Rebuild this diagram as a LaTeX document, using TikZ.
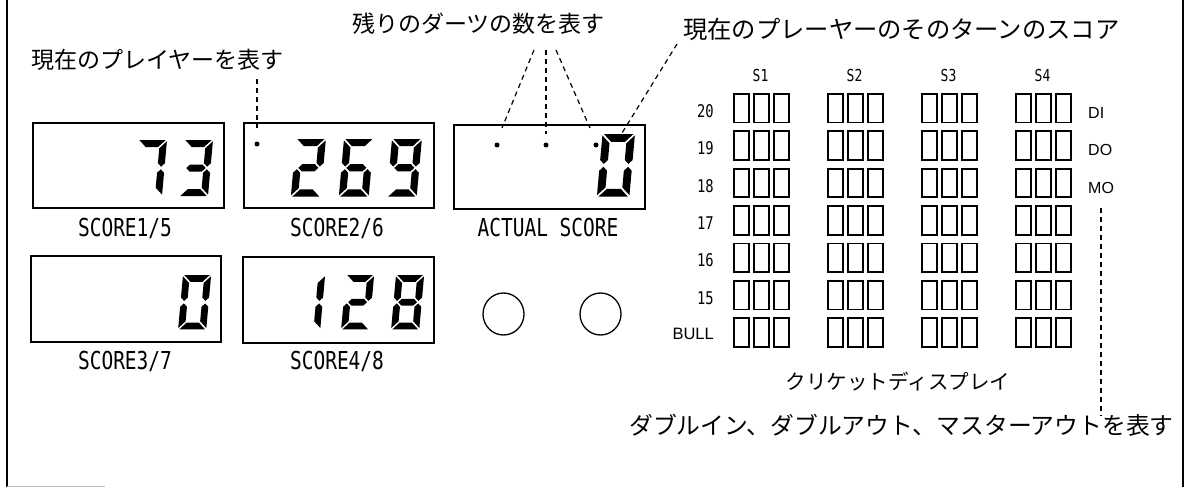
\documentclass[tikz,border=0pt]{standalone}
\usepackage{fontspec}
\usepackage{graphicx}
\usetikzlibrary{shapes.geometric}
\setmainfont{Liberation Sans}
\newfontfamily\jpfont{Noto Sans CJK JP}
\newfontfamily\monofont{DejaVu Sans Mono}
% seven segment geometry (local units, y downwards)
\def\sgW{29}\def\sgH{56}\def\sgT{7}\def\sgP{1.3}\def\sgM{28}
\def\segA{\fill (\sgP,0) -- (\sgW-\sgP,0) -- (\sgW-\sgP-\sgT,\sgT) -- (\sgP+\sgT,\sgT) -- cycle;}
\def\segD{\fill (\sgP,\sgH) -- (\sgW-\sgP,\sgH) -- (\sgW-\sgP-\sgT,\sgH-\sgT) -- (\sgP+\sgT,\sgH-\sgT) -- cycle;}
\def\segG{\fill (\sgP+\sgT/2,\sgM) -- (\sgP+\sgT,\sgM-\sgT/2) -- (\sgW-\sgP-\sgT,\sgM-\sgT/2) -- (\sgW-\sgP-\sgT/2,\sgM) -- (\sgW-\sgP-\sgT,\sgM+\sgT/2) -- (\sgP+\sgT,\sgM+\sgT/2) -- cycle;}
\def\segF{\fill (0,\sgP) -- (\sgT,\sgP+\sgT) -- (\sgT,\sgM-\sgT/2-\sgP) -- (\sgT/2,\sgM-\sgP) -- (0,\sgM-\sgT/2-\sgP) -- cycle;}
\def\segB{\fill (\sgW,\sgP) -- (\sgW-\sgT,\sgP+\sgT) -- (\sgW-\sgT,\sgM-\sgT/2-\sgP) -- (\sgW-\sgT/2,\sgM-\sgP) -- (\sgW,\sgM-\sgT/2-\sgP) -- cycle;}
\def\segE{\fill (0,\sgH-\sgP) -- (\sgT,\sgH-\sgP-\sgT) -- (\sgT,\sgM+\sgT/2+\sgP) -- (\sgT/2,\sgM+\sgP) -- (0,\sgM+\sgT/2+\sgP) -- cycle;}
\def\segC{\fill (\sgW,\sgH-\sgP) -- (\sgW-\sgT,\sgH-\sgP-\sgT) -- (\sgW-\sgT,\sgM+\sgT/2+\sgP) -- (\sgW-\sgT/2,\sgM+\sgP) -- (\sgW,\sgM+\sgT/2+\sgP) -- cycle;}
\newcommand\sdig[4]{%
  \begin{scope}[shift={(#1,#2)},scale=#3,xslant=0.09]
    \foreach \s in {#4}{\csname seg\s\endcsname}
  \end{scope}}
\newcommand\lbl[2]{\scalebox{0.79}[1]{\monofont\fontsize{#1}{#1}\selectfont #2}}
\begin{document}
\begin{tikzpicture}[x=1pt,y=-1pt,
  disp/.style={draw, line width=1.8pt, inner sep=0, anchor=north west},
  cell/.style={draw, line width=1.8pt, minimum width=15pt, minimum height=28.5pt, inner sep=0, anchor=north west},
  leader/.style={dash pattern=on 5pt off 4pt, line width=1.2pt},
  dot/.style={circle, fill, inner sep=0, minimum size=5pt},
  jp/.style={font=\jpfont\fontsize{23}{23}\selectfont, inner sep=0},
  captxt/.style={inner sep=0},
  knob/.style={ellipse, draw, line width=1.3pt, minimum width=41pt, minimum height=42pt, inner sep=0},
  side/.style={font=\fontsize{16}{16}\selectfont, inner sep=0, anchor=west}]
\useasboundingbox (0,0) rectangle (1185,487);
% frame
\draw[line width=2pt] (7,0) -- (7,487);
\draw[line width=2pt] (1183,0) -- (1183,487);
\draw[black!25, line width=1pt] (7,486) -- (105,486);

% display boxes
\node[disp, minimum width=191pt, minimum height=85pt] (s1) at (32,122) {};
\node[disp, minimum width=190pt, minimum height=85pt] (s2) at (243,122) {};
\node[disp, minimum width=191pt, minimum height=84pt] (act) at (453,124) {};
\node[disp, minimum width=190pt, minimum height=86pt] (s3) at (30,255) {};
\node[disp, minimum width=191pt, minimum height=86pt] (s4) at (242,256) {};

% captions
\node[captxt] (c1) at (125,228) {\lbl{24.7}{SCORE1/5}};
\node[captxt] (c2) at (337,228) {\lbl{24.7}{SCORE2/6}};
\node[captxt] (c3) at (548,228) {\lbl{24.7}{ACTUAL SCORE}};
\node[captxt] (c4) at (125,361) {\lbl{24.7}{SCORE3/7}};
\node[captxt] (c5) at (337,361) {\lbl{24.7}{SCORE4/8}};

% digits
\sdig{138}{140}{1}{A,B,C}
\sdig{184}{140}{1}{A,B,G,C,D}
\sdig{296}{139}{1.03}{A,B,G,E,D}
\sdig{344}{139}{1.03}{A,F,G,E,D,C}
\sdig{392}{139}{1.03}{A,B,F,G,C,D}
\sdig{602.5}{134}{1.12}{A,B,C,D,E,F}
\sdig{183}{275}{0.97}{A,B,C,D,E,F}
\sdig{297}{275}{0.97}{B,C}
\sdig{346}{275}{0.97}{A,B,G,E,D}
\sdig{396}{275}{0.97}{A,B,C,D,E,F,G}

% indicator dots
\node[dot] (d0) at (257,144) {};
\node[dot] (d1) at (497,145) {};
\node[dot] (d2) at (546,145) {};
\node[dot] (d3) at (596,145) {};

% knobs
\node[knob] (k1) at (503.5,314) {};
\node[knob] (k2) at (600.5,314) {};

% annotation texts
\node[jp, anchor=west] (t1) at (31,60) {現在のプレイヤーを表す};
\node[jp, anchor=west] (t2) at (352,24) {残りのダーツの数を表す};
\node[jp, anchor=west, font=\jpfont\fontsize{24.3}{24}\selectfont] (t3) at (683,29) {現在のプレーヤーのそのターンのスコア};
\node[jp, anchor=center, font=\jpfont\fontsize{20.5}{20}\selectfont] (t4) at (898,382) {クリケットディスプレイ};
\node[jp, anchor=west, font=\jpfont\fontsize{23.8}{24}\selectfont] (t5) at (629,425) {ダブルイン、ダブルアウト、マスターアウトを表す};

% leader coordinates
\coordinate (a1) at (257,79);  \coordinate (b1) at (257,128);
\coordinate (a2) at (534,50);  \coordinate (b2) at (502,128);
\coordinate (a3) at (546,50);  \coordinate (b3) at (546,134);
\coordinate (a4) at (556,50);  \coordinate (b4) at (590,128);
\coordinate (a5) at (677,44);  \coordinate (b5) at (622,133);
\coordinate (a6) at (1101,208); \coordinate (b6) at (1101,416);
\draw[leader] (a1) -- (b1);
\draw[leader] (a2) -- (b2);
\draw[leader] (a3) -- (b3);
\draw[leader] (a4) -- (b4);
\draw[leader] (a5) -- (b5);
\draw[leader] (a6) -- (b6);

% cricket display
\foreach \g/\gx in {1/733,2/827,3/921,4/1015}{
  \node[captxt] (h\g) at (\gx+27.5,75) {\lbl{16.5}{S\g}};
  \foreach \r in {0,...,6}{
    \foreach \k in {0,1,2}{
      \node[cell] (cl-\g-\r-\k) at (\gx+\k*20,93+\r*37.4) {};
    }
  }
}
\foreach \r/\t in {0/20,1/19,2/18,3/17,4/16,5/15}{
  \node[inner sep=0, anchor=east] (rl\r) at (714,93+\r*37.4+18) {\lbl{17.5}{\t}};
}
\node[inner sep=0, anchor=east, font=\fontsize{16.5}{16}\selectfont] (rl6) at (714,93+6*37.4+16.5) {BULL};
\node[side] (di) at (1088,93+20) {DI};
\node[side] (do) at (1088,93+37.4+20) {DO};
\node[side] (mo) at (1088,93+2*37.4+20) {MO};
\end{tikzpicture}
\end{document}
